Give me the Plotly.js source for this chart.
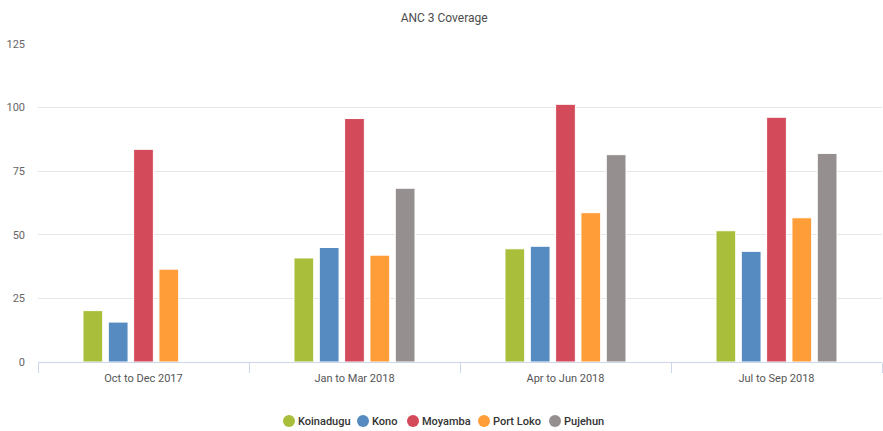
<!DOCTYPE html>
<html>
<head>
<meta charset="utf-8">
<script src="https://cdn.plot.ly/plotly-3.0.1.min.js"></script>
<style>html,body{margin:0;padding:0;background:#fff;}#chart{width:883px;height:431px;}</style>
</head>
<body>
<div id="chart"></div>
<script>
const categories = ["Oct to Dec 2017", "Jan to Mar 2018", "Apr to Jun 2018", "Jul to Sep 2018"];
const seriesNames = ["Koinadugu", "Kono", "Moyamba", "Port Loko", "Pujehun"];
const koinadugu = [20.2, 40.9, 44.5, 51.6];
const kono = [15.7, 45.0, 45.5, 43.5];
const moyamba = [83.6, 95.7, 101.3, 96.2];
const portLoko = [36.5, 42.0, 58.7, 56.7];
const pujehun = [null, 68.3, 81.5, 82.0];
const yTicks = [0, 25, 50, 75, 100, 125];

const seriesValues = [koinadugu, kono, moyamba, portLoko, pujehun];
const colors = ["#a9be3b", "#558bc0", "#d34a5a", "#ff9e38", "#968f8f"];

const W = 883, H = 431;
const M = {l: 38, r: 1, t: 44, b: 69};
const plotW = W - M.l - M.r, plotH = H - M.t - M.b;
// legend layout (page pixels)
const legendCircleX = [289, 363, 413, 484, 555];
const legendY = 421;
const toPaperX = px => (px - M.l) / plotW;
const toPaperY = py => (H - M.b - py) / plotH;

const traces = seriesValues.map((vals, i) => ({
  type: "bar",
  name: seriesNames[i],
  x: categories,
  y: vals,
  marker: {color: colors[i], line: {color: "#ffffff", width: 1}},
  showlegend: false,
  hoverinfo: "x+y+name"
}));

const shapes = seriesNames.map((n, i) => ({
  type: "circle",
  xref: "paper", yref: "paper",
  xsizemode: "pixel", ysizemode: "pixel",
  xanchor: toPaperX(legendCircleX[i]), yanchor: toPaperY(legendY),
  x0: -6, x1: 6, y0: -6, y1: 6,
  fillcolor: colors[i],
  line: {width: 0},
  layer: "above"
}));

const annotations = seriesNames.map((n, i) => ({
  text: n,
  xref: "paper", yref: "paper",
  x: toPaperX(legendCircleX[i] + 8), y: toPaperY(legendY),
  xanchor: "left", yanchor: "middle",
  showarrow: false,
  borderpad: 0,
  font: {size: 11, color: "#333333", family: "Roboto, sans-serif", weight: 500}
}));

const layout = {
  width: W,
  height: H,
  paper_bgcolor: "#ffffff",
  plot_bgcolor: "#ffffff",
  margin: M,
  font: {family: "Roboto, 'DejaVu Sans', sans-serif", color: "#666666", size: 11},
  title: {
    text: "ANC 3 Coverage",
    font: {family: "Roboto, sans-serif", size: 12, color: "#4d4d4d"},
    x: 0.503, xanchor: "center",
    y: 0.958, yanchor: "middle", yref: "container"
  },
  barmode: "group",
  bargap: 0.40,
  bargroupgap: 0.22,
  xaxis: {
    type: "category",
    categoryorder: "array",
    categoryarray: categories,
    showline: true,
    linecolor: "#ccd6eb",
    linewidth: 1,
    ticks: "outside",
    tickson: "boundaries",
    ticklen: 10,
    tickcolor: "#ccd6eb",
    tickwidth: 1,
    showgrid: false,
    zeroline: false,
    tickfont: {size: 11, color: "#555555", family: "Roboto, sans-serif"},
    ticklabelstandoff: 6,
    fixedrange: true
  },
  yaxis: {
    range: [0, 125],
    tickvals: yTicks,
    ticktext: yTicks.map(String),
    showgrid: true,
    gridcolor: "#e6e6e6",
    gridwidth: 1,
    zeroline: false,
    showline: false,
    ticks: "",
    ticklabelstandoff: 12,
    tickfont: {size: 11, color: "#666666", family: "Roboto, sans-serif"},
    fixedrange: true
  },
  shapes: shapes,
  annotations: annotations,
  showlegend: false
};

Plotly.newPlot("chart", traces, layout, {displayModeBar: false, staticPlot: true});
</script>
</body>
</html>
